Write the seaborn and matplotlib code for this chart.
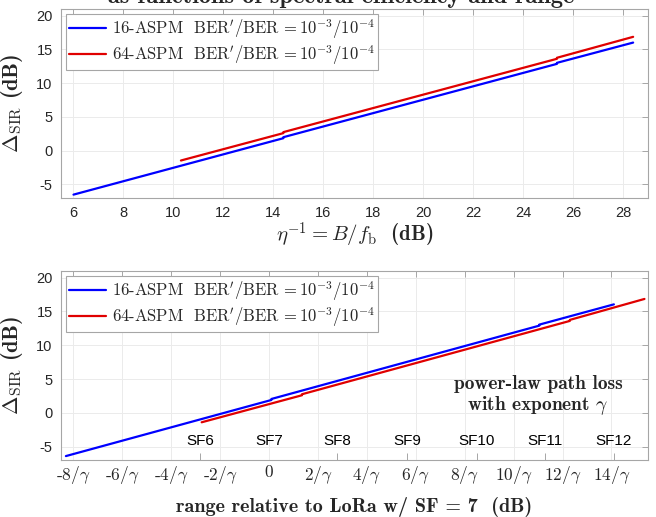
import matplotlib
matplotlib.use("Agg")
import matplotlib.pyplot as plt
import pandas as pd
import seaborn as sns

# ---- data ----
# top panel: x = eta^-1 = B/f_b (dB)
top_x_16 = [6.0, 14.4, 14.4, 25.35, 25.35, 28.4]
top_y_16 = [-6.5, 1.85, 2.0, 12.85, 13.0, 16.0]
top_x_64 = [10.3, 14.4, 14.4, 25.35, 25.35, 28.4]
top_y_64 = [-1.45, 2.6, 2.75, 13.6, 13.75, 16.85]

# bottom panel: x = range relative to LoRa SF7 (in units of 1/gamma)
bot_x_16 = [-8.3, 0.1, 0.1, 11.05, 11.05, 14.1]
bot_y_16 = [-6.4, 1.9, 2.05, 12.9, 13.05, 16.05]
bot_x_64 = [-2.75, 1.35, 1.35, 12.3, 12.3, 15.35]
bot_y_64 = [-1.4, 2.6, 2.75, 13.6, 13.75, 16.85]

sf_labels = ["SF6", "SF7", "SF8", "SF9", "SF10", "SF11", "SF12"]
sf_pos = [-2.8, 0.0, 2.8, 5.65, 8.5, 11.3, 14.1]

top_xticks = [6, 8, 10, 12, 14, 16, 18, 20, 22, 24, 26, 28]
yticks = [-5, 0, 5, 10, 15, 20]
bot_xticks = [-8, -6, -4, -2, 0, 2, 4, 6, 8, 10, 12, 14]
bot_xticklabels = ["-8/$\\gamma$", "-6/$\\gamma$", "-4/$\\gamma$", "-2/$\\gamma$", "0",
                   "2/$\\gamma$", "4/$\\gamma$", "6/$\\gamma$", "8/$\\gamma$",
                   "10/$\\gamma$", "12/$\\gamma$", "14/$\\gamma$"]

lab16 = "16-ASPM  BER$^{\\prime}$/BER$\\,=10^{-3}/10^{-4}$"
lab64 = "64-ASPM  BER$^{\\prime}$/BER$\\,=10^{-3}/10^{-4}$"

sns.set_theme(style="whitegrid")
plt.rcParams["font.family"] = ["Liberation Sans", "DejaVu Sans"]
plt.rcParams["mathtext.fontset"] = "cm"
plt.rcParams["axes.unicode_minus"] = False

fig = plt.figure(figsize=(6.56, 5.17), dpi=100)
ax1 = fig.add_axes([0.093, 0.617, 0.895, 0.366])
ax2 = fig.add_axes([0.093, 0.110, 0.895, 0.366])

df_t16 = pd.DataFrame({"x": top_x_16, "y": top_y_16})
df_t64 = pd.DataFrame({"x": top_x_64, "y": top_y_64})
df_b16 = pd.DataFrame({"x": bot_x_16, "y": bot_y_16})
df_b64 = pd.DataFrame({"x": bot_x_64, "y": bot_y_64})

for ax, d16, d64 in [(ax1, df_t16, df_t64), (ax2, df_b16, df_b64)]:
    sns.lineplot(data=d16, x="x", y="y", ax=ax, color="#0000ff", lw=1.6,
                 estimator=None, sort=False, label=lab16)
    sns.lineplot(data=d64, x="x", y="y", ax=ax, color="#e00000", lw=1.6,
                 estimator=None, sort=False, label=lab64)
    ax.set_ylim(-7, 21)
    ax.set_yticks(yticks)
    ax.set_yticklabels([str(v) for v in yticks])
    ax.grid(True, color="#ebebeb", lw=0.7)
    for s in ax.spines.values():
        s.set_color("#a6a6a6")
        s.set_linewidth(0.8)
    ax.tick_params(direction="in", length=4, width=0.7, color="#a6a6a6",
                   top=True, right=True, labelsize=10.5, labelcolor="#262626",
                   pad=6)
    ax.set_ylabel("$\\mathbf{\\Delta}_{\\mathrm{SIR}}$ (dB)", family="cmb10",
                  fontsize=16, color="#262626")
    ax.yaxis.set_label_coords(-0.062, 0.5)
    leg = ax.legend(loc="upper left", prop={"family": "cmr10", "size": 12},
                    frameon=True, fancybox=False, edgecolor="#a6a6a6",
                    handlelength=2.2, handletextpad=0.35, borderpad=0.2,
                    labelspacing=0.12, borderaxespad=0.3, framealpha=1)
    leg.get_frame().set_linewidth(0.8)

ax1.set_xlim(5.5, 29)
ax1.set_xticks(top_xticks)
ax1.set_xticklabels([str(v) for v in top_xticks])
ax1.set_xlabel("$\\eta^{-1} = B/f_{\\rm b}$  (dB)", family="cmb10",
               fontsize=15, color="#262626", va="center")
ax1.xaxis.set_label_coords(0.5, -0.2)

ax2.set_xlim(-8.5, 15.5)
ax2.set_xticks(bot_xticks)
ax2.set_xticklabels(bot_xticklabels, family="cmr10", fontsize=12.5)
ax2.tick_params(axis="x", which="major", pad=3)
ax2.set_xticks(sf_pos, minor=True)
ax2.tick_params(axis="x", which="minor", direction="in", length=5, width=0.7,
                color="#a6a6a6", bottom=True, top=False)
ax2.set_xlabel("range relative to LoRa w/ SF = 7  (dB)", family="cmb10",
               fontsize=14.5, color="#262626", va="center")
ax2.xaxis.set_label_coords(0.5, -0.25)

for p, s in zip(sf_pos, sf_labels):
    ax2.text(p, -4.1, s, ha="center", va="center", fontsize=11, color="black")

ax2.text(11.0, 2.5, "power-law path loss\nwith exponent $\\gamma$",
         ha="center", va="center", family="cmb10", fontsize=14,
         linespacing=1.05)

# title line sits mostly above the figure edge, as in the reference
fig.text(0.52, 1 - 3.5 / 517, "as functions of spectral efficiency and range",
         ha="center", va="baseline", family="cmb10", fontsize=17.5)

fig.savefig("out.png", dpi=100)
